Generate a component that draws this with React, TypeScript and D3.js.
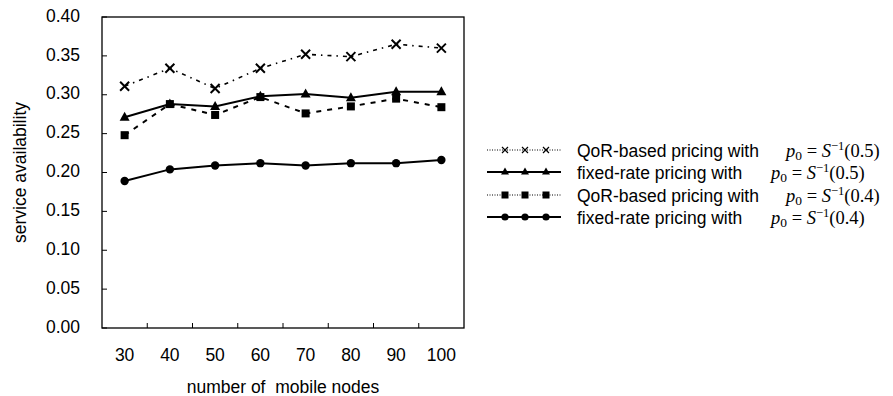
import * as d3 from 'd3';

const nodes = ['30', '40', '50', '60', '70', '80', '90', '100'];
const qor05 = [0.311, 0.334, 0.308, 0.334, 0.352, 0.349, 0.365, 0.36];
const fixed05 = [0.271, 0.288, 0.285, 0.298, 0.301, 0.296, 0.304, 0.304];
const qor04 = [0.248, 0.288, 0.274, 0.297, 0.276, 0.285, 0.295, 0.284];
const fixed04 = [0.189, 0.204, 0.209, 0.212, 0.209, 0.212, 0.212, 0.216];
const yTicks = [0, 0.05, 0.1, 0.15, 0.2, 0.25, 0.3, 0.35, 0.4];

type Marker = 'x' | 'tri' | 'sq' | 'dot';

const series = [
  { name: 'QoR-based pricing with', arg: '0.5', values: qor05, marker: 'x' as Marker, dash: '4 5 1.5 5', legendDash: '1 1.5', width: 1.6, legendWidth: 1 },
  { name: 'fixed-rate pricing with', arg: '0.5', values: fixed05, marker: 'tri' as Marker, dash: null, legendDash: null, width: 2, legendWidth: 2 },
  { name: 'QoR-based pricing with', arg: '0.4', values: qor04, marker: 'sq' as Marker, dash: '5 6', legendDash: '1 1.5', width: 2, legendWidth: 1 },
  { name: 'fixed-rate pricing with', arg: '0.4', values: fixed04, marker: 'dot' as Marker, dash: null, legendDash: null, width: 2, legendWidth: 2 },
];

function MarkerShape({ kind, x, y }: { kind: Marker; x: number; y: number }) {
  if (kind === 'x') {
    const r = 4.5;
    return (
      <path
        d={`M${x - r},${y - r}L${x + r},${y + r}M${x - r},${y + r}L${x + r},${y - r}`}
        stroke='#000'
        strokeWidth={2}
      />
    );
  }
  if (kind === 'tri') {
    return <path d={`M${x},${y - 5.5}L${x + 5},${y + 3.5}L${x - 5},${y + 3.5}Z`} fill='#000' />;
  }
  if (kind === 'sq') {
    return <rect x={x - 4} y={y - 4} width={8} height={8} fill='#000' />;
  }
  return <circle cx={x} cy={y} r={4.2} fill='#000' />;
}

function SmallMarker({ kind, x, y }: { kind: Marker; x: number; y: number }) {
  if (kind === 'x') {
    const r = 3;
    return (
      <path
        d={`M${x - r},${y - r}L${x + r},${y + r}M${x - r},${y + r}L${x + r},${y - r}`}
        stroke='#000'
        strokeWidth={1.2}
      />
    );
  }
  if (kind === 'tri') {
    return <path d={`M${x},${y - 4.5}L${x + 4},${y + 2.5}L${x - 4},${y + 2.5}Z`} fill='#000' />;
  }
  if (kind === 'sq') {
    return <rect x={x - 3.5} y={y - 3.5} width={7} height={7} fill='#000' />;
  }
  return <circle cx={x} cy={y} r={3.6} fill='#000' />;
}

export default function App() {
  const width = 893;
  const height = 396;
  const plot = { left: 102, right: 464, top: 17, bottom: 328 };
  const fs = 17.5;

  const x = d3.scaleBand().domain(nodes).range([plot.left, plot.right]);
  const y = d3.scaleLinear().domain([0, 0.4]).range([plot.bottom, plot.top]);
  const cx = (d: string) => (x(d) ?? 0) + x.bandwidth() / 2;

  const line = d3
    .line<number>()
    .x((_, i) => cx(nodes[i]))
    .y((v) => y(v));

  const legendRows = [150, 172, 195, 217];
  const legendMarkers = [505, 525, 546];
  const formulaX = [786, 771, 786, 771];

  return (
    <svg
      width={width}
      height={height}
      style={{ position: 'absolute', left: 0, top: 0, background: '#fff' }}
      fontFamily='Liberation Sans, Arial, sans-serif'
    >
      {/* frame */}
      <rect
        x={plot.left}
        y={plot.top}
        width={plot.right - plot.left}
        height={plot.bottom - plot.top}
        fill='none'
        stroke='#000'
        strokeWidth={1.3}
      />

      {/* y ticks */}
      {yTicks.map((t) => (
        <g key={t}>
          <line x1={plot.left} x2={plot.left + 5} y1={y(t)} y2={y(t)} stroke='#000' />
          <text x={80} y={y(t)} textAnchor='end' dominantBaseline='middle' fontSize={fs}>
            {t.toFixed(2)}
          </text>
        </g>
      ))}

      {/* x ticks between categories */}
      {nodes.slice(1).map((n) => (
        <line
          key={n}
          x1={x(n)}
          x2={x(n)}
          y1={plot.bottom}
          y2={plot.bottom - 5}
          stroke='#000'
        />
      ))}
      {nodes.map((n) => (
        <text key={n} x={cx(n)} y={356} textAnchor='middle' dominantBaseline='middle' fontSize={fs}>
          {n}
        </text>
      ))}

      <text x={(plot.left + plot.right) / 2} y={388} textAnchor='middle' dominantBaseline='middle' fontSize={fs} xmlSpace='preserve'>
        number of  mobile nodes
      </text>
      <text
        transform={`translate(21,${(plot.top + plot.bottom) / 2}) rotate(-90)`}
        textAnchor='middle'
        dominantBaseline='middle'
        fontSize={fs}
      >
        service availability
      </text>

      {/* series */}
      {series.map((s, k) => (
        <g key={k}>
          <path
            d={line(s.values) ?? ''}
            fill='none'
            stroke='#000'
            strokeWidth={s.width}
            strokeDasharray={s.dash ?? undefined}
          />
          {s.values.map((v, i) => (
            <MarkerShape key={i} kind={s.marker} x={cx(nodes[i])} y={y(v)} />
          ))}
        </g>
      ))}

      {/* legend */}
      {series.map((s, k) => {
        const ly = legendRows[k];
        const fx = formulaX[k];
        return (
          <g key={k}>
            <line
              x1={487}
              x2={561}
              y1={ly}
              y2={ly}
              stroke='#000'
              strokeWidth={s.legendWidth}
              strokeDasharray={s.legendDash ?? undefined}
            />
            {legendMarkers.map((mx) => (
              <SmallMarker key={mx} kind={s.marker} x={mx} y={ly} />
            ))}
            <text x={577} y={ly + 2} dominantBaseline='middle' fontSize={fs}>
              {s.name}
            </text>
            <text
              x={fx}
              y={ly + 7}
              fontFamily='Liberation Serif, Times New Roman, serif'
              fontSize={18.5}
            >
              <tspan fontStyle='italic'>p</tspan>
              <tspan fontSize={13.5} dy={2.5}>0</tspan>
              <tspan dy={-2.5}> = </tspan>
              <tspan fontStyle='italic'>S</tspan>
              <tspan fontSize={12.5} dy={-7}>−1</tspan>
              <tspan dy={7}>({s.arg})</tspan>
            </text>
          </g>
        );
      })}
    </svg>
  );
}
